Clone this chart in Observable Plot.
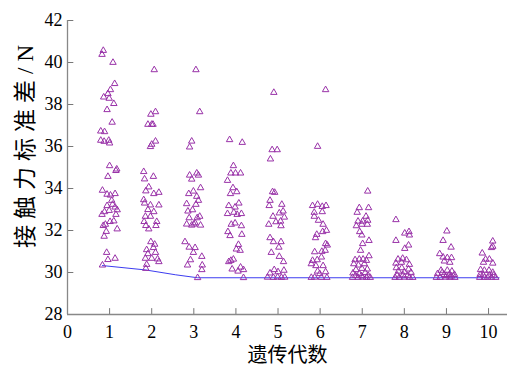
<!DOCTYPE html>
<html><head><meta charset="utf-8">
<script src="https://cdn.jsdelivr.net/npm/d3@7"></script>
<script src="https://cdn.jsdelivr.net/npm/@observablehq/plot@0.6"></script>
<style>body{margin:0;background:#fff}</style>
</head><body><div id="chart"></div>
<script>
const gen1 = [[0.85,40.57],[0.82,40.38],[1.08,40.0],[1.12,38.99],[1.02,38.7],[0.96,38.51],[0.86,38.35],[0.99,38.29],[1.10,38.04],[0.94,37.75],[1.06,37.15],[0.79,36.73],[0.88,36.7],[0.79,36.29],[0.87,36.24],[0.98,36.29],[1.0,36.16],[1.0,35.08],[1.17,34.92],[1.15,34.85],[0.96,34.57],[0.83,33.91],[0.94,33.72],[1.13,33.75],[1.02,33.68],[1.05,33.43],[0.94,33.18],[1.07,33.24],[1.13,33.11],[1.18,32.98],[0.88,32.89],[0.82,32.76],[0.99,32.95],[1.15,32.76],[1.1,32.45],[1.01,32.42],[0.9,32.29],[0.85,32.23],[1.18,32.07],[0.92,31.95],[0.87,31.72],[0.93,30.95],[0.96,30.61],[1.13,30.67],[0.83,30.35]];
const gen2 = [[2.06,39.65],[1.98,37.53],[2.09,37.65],[1.91,37.05],[2.0,37.05],[2.03,37.05],[1.97,35.99],[2.0,36.1],[2.09,36.25],[1.81,34.8],[2.04,34.57],[1.83,34.45],[1.93,34.07],[1.86,33.88],[2.05,33.75],[2.17,33.81],[1.81,33.46],[1.83,33.3],[1.97,33.21],[2.17,33.21],[1.91,32.99],[2.05,32.89],[1.85,32.67],[1.97,32.67],[1.82,32.42],[2.12,32.42],[1.86,32.23],[2.1,32.23],[1.93,32.07],[1.98,31.46],[2.07,31.34],[1.88,31.08],[2.04,31.18],[1.91,30.89],[2.09,30.95],[1.85,30.67],[2.0,30.67],[2.14,30.64],[2.17,30.51],[1.88,30.38],[1.86,30.19]];
const gen3 = [[3.05,39.65],[3.14,37.65],[2.95,36.25],[2.9,35.97],[2.9,34.63],[2.95,34.44],[3.07,34.73],[3.11,34.63],[3.16,34.03],[2.88,33.75],[2.99,33.87],[3.07,33.62],[2.83,33.27],[3.05,33.24],[3.11,33.43],[2.86,32.92],[2.97,32.98],[2.89,32.6],[3.08,32.6],[3.14,32.67],[2.83,32.3],[2.95,32.25],[3.03,32.36],[3.16,32.25],[3.0,32.3],[2.79,31.46],[2.89,31.2],[3.03,31.18],[2.99,30.95],[3.19,30.76],[2.92,30.6],[2.85,30.35],[3.2,30.35],[3.19,30.13],[3.09,29.75]];
const gen4 = [[3.85,36.32],[4.15,36.19],[3.94,35.08],[3.88,34.73],[3.99,34.73],[4.11,34.73],[3.8,34.38],[3.93,34.03],[4.02,33.84],[3.87,33.75],[3.83,33.18],[3.98,33.11],[4.07,33.3],[3.8,32.8],[3.95,32.86],[4.03,32.76],[4.13,32.8],[3.89,32.29],[3.98,32.35],[4.13,32.22],[3.81,31.94],[3.86,31.75],[4.14,31.81],[4.06,31.33],[4.01,31.11],[4.1,31.05],[3.83,30.51],[3.94,30.63],[3.88,30.57],[3.91,30.16],[4.11,30.25],[4.05,30.06],[4.18,30.13],[4.18,29.75]];
const gen5 = [[4.9,38.57],[4.86,35.84],[4.98,35.84],[4.82,35.4],[4.87,33.84],[4.92,33.81],[4.81,33.43],[4.79,33.18],[5.09,33.24],[4.88,32.67],[5.03,32.83],[5.12,32.92],[5.15,32.63],[4.95,32.41],[5.06,32.44],[4.78,32.29],[5.07,32.22],[4.81,31.65],[4.89,31.46],[5.07,31.46],[5.02,31.2],[4.84,30.95],[5.03,30.76],[5.13,30.51],[4.91,30.13],[4.81,29.97],[5.0,30.03],[5.14,30.1],[4.75,29.77],[4.89,29.76],[4.99,29.78],[5.08,29.76],[5.16,29.77]];
const gen6 = [[6.13,38.7],[5.94,36.0],[5.82,33.18],[5.94,33.24],[6.05,33.14],[6.14,33.18],[5.86,32.86],[6.05,32.89],[5.86,32.67],[5.96,32.48],[6.07,32.29],[6.15,32.0],[6.06,31.94],[5.92,31.81],[5.89,31.65],[6.13,31.37],[6.17,31.3],[5.87,30.98],[6.04,31.0],[6.12,31.05],[5.82,30.57],[5.93,30.6],[6.03,30.73],[5.79,30.41],[5.9,30.32],[6.07,30.32],[5.94,30.06],[6.13,30.03],[5.99,29.94],[5.79,29.76],[5.87,29.77],[6.03,29.76],[6.16,29.76]];
const gen7 = [[7.13,33.87],[6.93,33.08],[7.15,33.08],[6.88,32.86],[7.09,32.67],[6.9,32.44],[7.01,32.44],[7.13,32.48],[6.86,32.22],[6.99,32.29],[7.12,32.29],[6.94,31.94],[6.99,31.78],[7.16,31.52],[7.01,31.37],[6.96,31.05],[7.16,30.79],[6.83,30.6],[6.93,30.63],[7.02,30.63],[7.1,30.57],[6.8,30.41],[6.91,30.35],[7.05,30.41],[6.85,30.13],[6.99,30.19],[7.12,30.16],[6.78,29.97],[6.93,29.94],[7.07,29.99],[6.77,29.76],[6.9,29.76],[7.01,29.77],[7.1,29.76],[7.19,29.76],[6.84,29.85],[6.98,29.84],[7.14,29.86]];
const gen8 = [[7.8,32.51],[8.01,31.87],[8.11,31.94],[8.12,31.78],[7.8,31.52],[8.1,31.3],[8.01,31.14],[7.85,30.63],[7.96,30.67],[8.05,30.6],[7.8,30.44],[7.93,30.48],[8.12,30.38],[7.81,30.22],[7.94,30.22],[8.1,30.16],[7.86,30.06],[8.0,30.03],[8.16,30.0],[7.78,29.76],[7.88,29.76],[8.0,29.77],[8.12,29.76],[8.2,29.76],[7.83,29.87],[7.97,29.88],[8.08,29.86]];
const gen9 = [[9.01,31.97],[8.92,31.52],[9.11,31.2],[8.84,30.89],[8.92,30.73],[9.02,30.7],[9.12,30.7],[8.95,30.54],[9.08,30.48],[8.87,30.1],[9.02,30.1],[9.13,30.06],[8.79,29.94],[8.95,29.9],[9.07,29.9],[9.19,29.9],[8.76,29.76],[8.85,29.76],[8.98,29.77],[9.08,29.76],[9.2,29.76],[8.9,30.0],[9.0,29.85],[9.12,29.82]];
const gen10 = [[10.1,31.49],[10.1,31.24],[10.07,31.18],[9.85,30.92],[9.93,30.63],[10.02,30.63],[10.1,30.44],[9.88,30.48],[9.81,30.13],[9.9,30.1],[10.01,30.1],[10.1,30.0],[9.8,29.9],[9.88,29.87],[10.02,29.87],[10.12,29.87],[9.79,29.76],[9.9,29.76],[9.98,29.77],[10.07,29.76],[10.17,29.76]];
const bestX = [0.83, 1.86, 2.57, 3.09, 10.25];
const bestY = [30.33, 30.12, 29.89, 29.75, 29.75];
const xTicks = [0,1,2,3,4,5,6,7,8,9,10];
const yTicks = [28,30,32,34,36,38,40,42];
const xLabel = "遗传代数";
const yLabel = "接触力标准差/N";

const generations = [gen1,gen2,gen3,gen4,gen5,gen6,gen7,gen8,gen9,gen10];
const points = generations.flatMap((g,i)=>g.map(([x,y])=>({gen:i+1,x,y})));
const best = bestX.map((x,i)=>({x,y:bestY[i]}));
const serif = "'Liberation Serif','Noto Sans CJK SC',serif";

const plot = Plot.plot({
  width:507, height:367,
  marginLeft:67, marginRight:0, marginTop:20, marginBottom:53,
  x:{domain:[0,10.45]},
  y:{domain:[28,42]},
  style:{fontFamily:serif, fontSize:"18px", color:"#000", background:"#fff", overflow:"visible"},
  marks:[
    Plot.axisX(xTicks,{tickSize:0, tickPadding:11, label:null, fontSize:18, fill:"#000"}),
    Plot.axisY(yTicks,{tickSize:0, tickPadding:5, label:null, fontSize:18, fill:"#000"}),
    Plot.ruleX(xTicks.filter(d=>d>0), {x:d=>d, y1:28, y2:28.28, stroke:"#777"}),
    Plot.ruleY(yTicks, {y:d=>d, x1:0, x2:0.15, stroke:"#777"}),
    Plot.ruleX([0],{stroke:"#888", strokeWidth:1.3}),
    Plot.ruleY([28],{stroke:"#888", strokeWidth:1.3}),
    Plot.line(best,{x:"x", y:"y", stroke:"#3c3cf0", strokeWidth:1}),
    Plot.dot(points,{x:"x", y:"y", symbol:"triangle", r:2.4, stroke:"#9932a8", fill:"none", strokeWidth:1}),
    Plot.text([xLabel],{frameAnchor:"bottom", lineAnchor:"middle", dy:41, fontSize:20, fill:"#000"}),
    Plot.text([yLabel],{frameAnchor:"left", textAnchor:"middle", lineAnchor:"middle", dx:-42, dy:-24, rotate:-90, fontSize:23, fill:"#000", className:"ylab"})
  ]
});
d3.select(plot).selectAll("g.ylab text").attr("letter-spacing", "6px");
document.getElementById("chart").appendChild(plot);
</script>
</body></html>
